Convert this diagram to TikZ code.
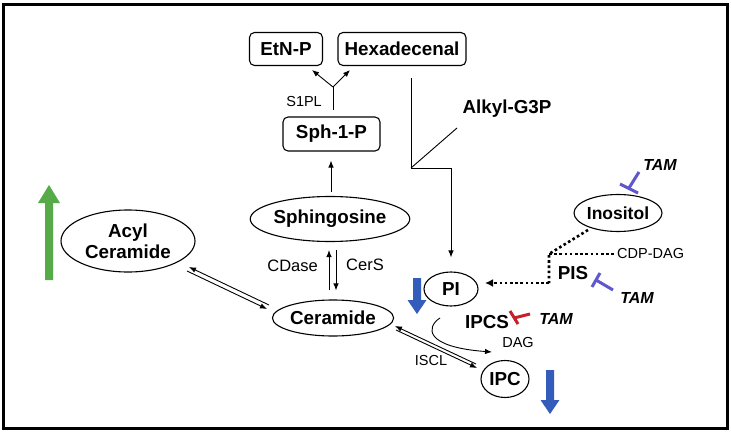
\documentclass[tikz,border=0pt]{standalone}
\usepackage{fontspec}
\setmainfont{Liberation Sans}
\usetikzlibrary{arrows.meta,shapes.geometric}
\definecolor{mygreen}{RGB}{86,170,72}
\definecolor{myblue}{RGB}{52,92,186}
\definecolor{myviolet}{RGB}{96,86,206}
\definecolor{myred}{RGB}{200,32,40}
\tikzset{
  box/.style={draw, rounded corners=5pt, line width=1.1pt, font=\fontsize{18.8}{20}\selectfont\bfseries, minimum height=33pt, inner sep=0pt},
  ell/.style={draw, ellipse, line width=1.1pt, font=\fontsize{18.8}{21}\selectfont\bfseries, inner sep=0pt, align=center},
  btxt/.style={font=\fontsize{18.8}{20}\selectfont\bfseries, inner sep=0pt},
  lbl/.style={font=\fontsize{14.5}{16}\selectfont, inner sep=0pt},
  lblb/.style={font=\fontsize{16.5}{18}\selectfont, inner sep=0pt},
  tam/.style={font=\fontsize{16}{18}\selectfont\bfseries\itshape, inner sep=0pt},
  arr/.style={-{Latex[length=7pt,width=5.5pt]}, line width=0.9pt},
  ln/.style={line width=0.9pt},
  inh/.style={line width=3pt},
  dotl/.style={line width=2.6pt, dash pattern=on 2.6pt off 2.6pt}
}
\begin{document}
\begin{tikzpicture}[x=1pt,y=-1pt]
\useasboundingbox (0,0) rectangle (731,433);
\fill[white] (0,0) rectangle (731,433);
\draw[line width=3pt] (3.5,5) rectangle (727,428.5);

% nodes
\node[box, minimum width=73pt] (etn) at (286,49) {EtN-P};
\node[box, minimum width=128pt] (hex) at (402,49) {Hexadecenal};
\node[box, minimum width=97pt, minimum height=34pt] (s1p) at (331.5,134) {Sph-1-P};
\node[btxt] (alkyl) at (507,109) {Alkyl-G3P};
\node[ell, minimum width=156pt, minimum height=45pt] (sph) at (330,219) {Sphingosine};
\node[ell, minimum width=118pt, minimum height=36pt] (cer) at (333,318) {Ceramide};
\node[ell, minimum width=134pt, minimum height=62pt] (acyl) at (128,241) {Acyl\\Ceramide};
\node[ell, minimum width=54pt, minimum height=34pt] (pi) at (451,289) {PI};
\node[ell, minimum width=48pt, minimum height=37pt] (ipc) at (505,379) {IPC};
\node[ell, minimum width=78pt, minimum height=37pt, font=\fontsize{17.5}{20}\selectfont\bfseries] (ino) at (618,213) {Inositol};

\node[lbl, anchor=east] (s1pl) at (322,102) {S1PL};
\node[lblb, anchor=east] (cdase) at (318,266) {CDase};
\node[lblb, anchor=west] (cers) at (346,265) {CerS};
\node[lbl] (iscl) at (431,361) {ISCL};
\node[lbl] (dag) at (518,343) {DAG};
\node[lbl, anchor=west] (cdp) at (617,254) {CDP-DAG};
\node[btxt] (ipcs) at (487,322) {IPCS};
\node[btxt] (pis) at (573,273) {PIS};
\node[tam] (tam1) at (660,165) {TAM};
\node[tam] (tam2) at (637,298) {TAM};
\node[tam] (tam3) at (556,319) {TAM};

% S1PL fork
\coordinate (fork) at (333,87);
\coordinate (tipL) at (312,70);
\coordinate (tipR) at (350,70);
\draw[ln] (s1p.north -| fork) ++(0,-6) -- (fork);
\draw[arr] (fork) -- (tipL);
\draw[arr] (fork) -- (tipR);

% Sphingosine -> Sph-1-P
\draw[arr, shorten <=4pt, shorten >=9pt] (sph.north -| 331,0) -- (s1p.south -| 331,0);

% CDase / CerS
\draw[arr, shorten <=9pt, shorten >=8pt] (329,0 |- cer.north) -- (329,0 |- sph.south);
\draw[arr, shorten <=8pt, shorten >=9pt] (336,0 |- sph.south) -- (336,0 |- cer.north);

% Hexadecenal / Alkyl-G3P -> PI
\coordinate (bend) at (411,168);
\coordinate (alk) at (457,128);
\draw[ln] (411,0 |- hex.south) ++(0,12) -- (bend);
\draw[ln] (alk) -- (bend);
\draw[arr, shorten >=14pt] (bend) -| (pi.north);

% Acyl Ceramide <-> Ceramide
\coordinate (ac1) at (269,305);
\coordinate (ac2) at (189,267);
\coordinate (ac3) at (187,271);
\coordinate (ac4) at (267,309);
\draw[arr] (ac1) -- (ac2);
\draw[arr] (ac3) -- (ac4);

% Ceramide <-> IPC
\coordinate (ci1) at (476,364);
\coordinate (ci2) at (395,326);
\coordinate (ci3) at (396,330);
\coordinate (ci4) at (477,368);
\draw[arr] (ci1) -- (ci2);
\draw[arr] (ci3) -- (ci4);

% PI -> DAG curve
\coordinate (pic) at (440,318);
\coordinate (dagc) at (492,352);
\draw[arr] (pic) .. controls (426,327) and (424,347) .. (dagc);

% dotted Inositol -> PI
\coordinate (d1) at (588,230);
\coordinate (d2) at (549,254);
\coordinate (d3) at (549,283);
\coordinate (d4) at (615,254);
\coordinate (d5) at (485,283);
\draw[dotl] (d1) -- (d2) -- (d3);
\draw[dotl] (d2) -- (d4);
\draw[dotl, -{Latex[length=8pt,width=8pt]}] (d3) -- (d5);

% inhibitors
\coordinate (r1) at (530,314);
\coordinate (r2) at (514,318);
\draw[inh, myred] (r1) -- (r2);
\draw[inh, myred] (510,311) -- (518,324);
\coordinate (v1) at (639,172);
\coordinate (v2) at (629,188);
\draw[inh, myviolet] (v1) -- (v2);
\draw[inh, myviolet] (620,184) -- (638,193);
\coordinate (p1) at (613,290);
\coordinate (p2) at (596,280);
\draw[inh, myviolet] (p1) -- (p2);
\draw[inh, myviolet] (592,287) -- (600,273);

% block arrows
\fill[mygreen] (45,280) -- (53,280) -- (53,203) -- (60,203) -- (49,185) -- (38,203) -- (45,203) -- cycle;
\fill[myblue] (413,278) -- (421,278) -- (421,300) -- (426.5,300) -- (417,314) -- (407.5,300) -- (413,300) -- cycle;
\fill[myblue] (546,370) -- (554,370) -- (554,400) -- (559.5,400) -- (550,414) -- (540.5,400) -- (546,400) -- cycle;
\end{tikzpicture}
\end{document}
